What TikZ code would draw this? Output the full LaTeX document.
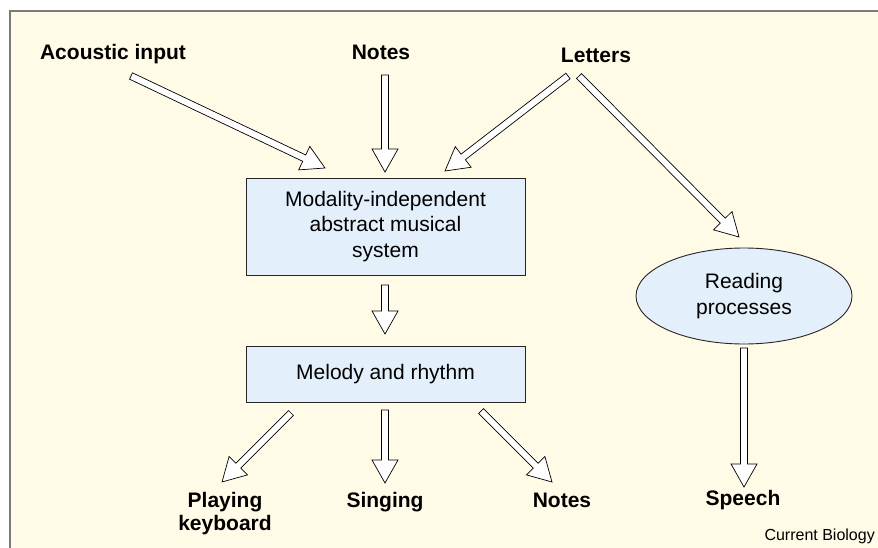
\documentclass[tikz,border=0pt]{standalone}
\usepackage{fontspec}
\setmainfont{Liberation Sans}
\usetikzlibrary{calc,shapes.geometric}
\definecolor{cream}{HTML}{FFFBE7}
\definecolor{boxblue}{HTML}{E3F0FB}
\definecolor{framegray}{HTML}{7A7A7A}
\tikzset{
  lbl/.style={font=\fontsize{21}{23}\selectfont\bfseries, inner sep=0pt, anchor=base, align=center},
  boxtext/.style={font=\fontsize{21}{25.5}\selectfont, align=center, inner sep=0pt},
  procbox/.style={draw=black!85, line width=0.9pt, fill=boxblue},
  barrowstyle/.style={draw=black, fill=white, line width=0.7pt, line join=miter},
}
\newcommand\blockarrow[2]{%
  \draw[barrowstyle] let \p1=(#1), \p2=(#2),
      \n1={atan2(\y2-\y1,\x2-\x1)}, \n2={veclen(\x2-\x1,\y2-\y1)} in
    [shift={(\p1)}, rotate=\n1]
    (0pt,-3.5pt) -- (\n2-23pt,-3.5pt) -- (\n2-23pt,-13pt) -- (\n2,0pt)
    -- (\n2-23pt,13pt) -- (\n2-23pt,3.5pt) -- (0pt,3.5pt) -- cycle;}
\begin{document}
\begin{tikzpicture}[x=1pt,y=-1pt]
  \useasboundingbox (0,0) rectangle (878,548);
  \fill[white] (0,0) rectangle (878,548);
  \fill[cream] (10,11) rectangle (878,548);
  \draw[framegray, line width=2pt] (878,11) -- (10,11) -- (10,548);

  % labels
  \node[lbl] (acoustic) at (113,60) {Acoustic input};
  \node[lbl] (notestop) at (381,60) {Notes};
  \node[lbl] (letters) at (596,63) {Letters};
  \node[lbl] (playing) at (225,530) {Playing\\keyboard};
  \node[lbl] (singing) at (385,507) {Singing};
  \node[lbl] (notesbot) at (562,507) {Notes};
  \node[lbl] (speech) at (743,505) {Speech};
  \node[font=\fontsize{16}{18}\selectfont, inner sep=0pt, anchor=base east] (credit) at (875,540) {Current Biology};

  % boxes
  \node[procbox, boxtext, minimum width=279pt, minimum height=97pt] (modal) at (385.5,226.5)
    {Modality-independent\\abstract musical\\system};
  \node[procbox, boxtext, minimum width=279pt, minimum height=56pt] (melody) at (385.5,374)
    {Melody and rhythm};
  \node[procbox, boxtext, ellipse, minimum width=216pt, minimum height=96pt] (reading) at (744,296)
    {Reading\\processes};

  % arrow end points
  \coordinate (acS) at (131,76);  \coordinate (acE) at (325,168);
  \coordinate (ntS) at (385,75);  \coordinate (ntE) at (385,172);
  \coordinate (lmS) at (568,76);  \coordinate (lmE) at (445,171);
  \coordinate (lrS) at (579,76);  \coordinate (lrE) at (739,237);
  \coordinate (mmS) at (385,285); \coordinate (mmE) at (385,334);
  \coordinate (rsS) at (744,348); \coordinate (rsE) at (744,487);
  \coordinate (pkS) at (291,413); \coordinate (pkE) at (222,482);
  \coordinate (sgS) at (385,410); \coordinate (sgE) at (385,483);
  \coordinate (nbS) at (481,411); \coordinate (nbE) at (552,482);

  \blockarrow{acS}{acE}
  \blockarrow{ntS}{ntE}
  \blockarrow{lmS}{lmE}
  \blockarrow{lrS}{lrE}
  \blockarrow{mmS}{mmE}
  \blockarrow{rsS}{rsE}
  \blockarrow{pkS}{pkE}
  \blockarrow{sgS}{sgE}
  \blockarrow{nbS}{nbE}
\end{tikzpicture}
\end{document}
